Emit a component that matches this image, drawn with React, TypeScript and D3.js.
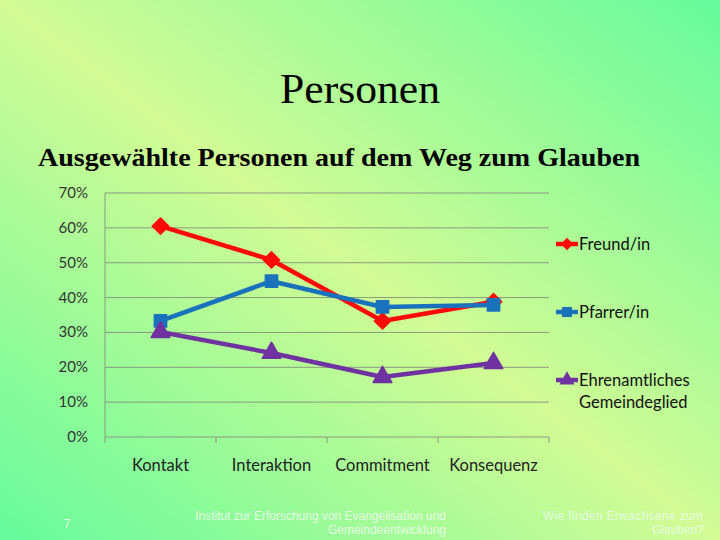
import React from 'react';
import * as d3 from 'd3';

const categories = ['Kontakt', 'Interaktion', 'Commitment', 'Konsequenz'];
const seriesNames = ['Freund/in', 'Pfarrer/in', 'Ehrenamtliches Gemeindeglied'];
const freund = [0.605, 0.508, 0.333, 0.388];
const pfarrer = [0.333, 0.447, 0.373, 0.379];
const ehrenamt = [0.301, 0.241, 0.172, 0.212];
const yTicks = [0, 0.1, 0.2, 0.3, 0.4, 0.5, 0.6, 0.7];

const colors = ['#ff0a0a', '#1a72bd', '#7032a0'];
const shapes = [d3.symbolDiamond2, d3.symbolSquare, d3.symbolTriangle];

export default function App() {
  const W = 720;
  const H = 540;
  const left = 105;
  const right = 549;
  const top = 193;
  const bottom = 437;

  const x = d3.scaleBand().domain(categories).range([left, right]);
  const y = d3.scaleLinear().domain([0, 0.7]).range([bottom, top]);
  const fmt = d3.format('.0%');

  const data = [freund, pfarrer, ehrenamt];
  const line = d3
    .line<number>()
    .x((_, i) => x(categories[i])! + x.bandwidth() / 2)
    .y((d) => y(d));

  const sym = (i: number) =>
    d3.symbol().type(shapes[i]).size(i === 0 ? 170 : 150)() as string;

  const font = 'Lato, "Open Sans", sans-serif';

  return (
    <svg width={W} height={H} style={{ position: 'absolute', left: 0, top: 0 }}>
      <defs>
        <linearGradient id="bg" x1="0" y1="1" x2="1" y2="0">
          <stop offset="0" stopColor="#66fb9c" />
          <stop offset="0.5" stopColor="#d2fb94" />
          <stop offset="1" stopColor="#66fb9c" />
        </linearGradient>
      </defs>
      <rect width={W} height={H} fill="url(#bg)" />

      <text
        x={280}
        y={103}
        fontFamily="'Liberation Serif', serif"
        fontSize={42}
        fill="#000"
        textLength={160}
        lengthAdjust="spacingAndGlyphs"
      >
        Personen
      </text>
      <text
        x={38}
        y={166}
        fontFamily="'Liberation Serif', serif"
        fontSize={26}
        fontWeight="bold"
        fill="#000"
        textLength={602}
        lengthAdjust="spacingAndGlyphs"
      >
        Ausgewählte Personen auf dem Weg zum Glauben
      </text>

      {/* grid */}
      {yTicks.map((t) => (
        <g key={t}>
          <line x1={left} x2={right} y1={y(t)} y2={y(t)} stroke="#8a9a80" strokeWidth={1} />
          <text x={88} y={y(t) + 5} textAnchor="end" fontFamily={font} fontSize={15} fill="#333">
            {fmt(t)}
          </text>
        </g>
      ))}
      <line x1={left} x2={left} y1={top} y2={bottom} stroke="#8a9a80" strokeWidth={1} />
      {categories.map((c) => (
        <line key={c} x1={x(c)!} x2={x(c)!} y1={bottom} y2={bottom + 6} stroke="#8a9a80" />
      ))}
      <line x1={right} x2={right} y1={bottom} y2={bottom + 6} stroke="#8a9a80" />
      {categories.map((c) => (
        <text
          key={c}
          x={x(c)! + x.bandwidth() / 2}
          y={471}
          textAnchor="middle"
          fontFamily={font}
          fontSize={16.5}
          fill="#222"
        >
          {c}
        </text>
      ))}

      {/* series */}
      {data.map((vals, s) => (
        <g key={s}>
          <path d={line(vals) as string} fill="none" stroke={colors[s]} strokeWidth={4.5} strokeLinejoin="round" />
          {vals.map((v, i) => (
            <path
              key={i}
              d={sym(s)}
              transform={`translate(${x(categories[i])! + x.bandwidth() / 2},${y(v)})`}
              fill={colors[s]}
              stroke={colors[s]}
              strokeWidth={1.5}
              strokeLinejoin="round"
            />
          ))}
        </g>
      ))}

      {/* legend */}
      {seriesNames.map((name, s) => {
        const ly = [244, 312, 380][s];
        const parts = s === 2 ? ['Ehrenamtliches', 'Gemeindeglied'] : [name];
        return (
          <g key={name}>
            <line x1={556} x2={578} y1={ly} y2={ly} stroke={colors[s]} strokeWidth={4.5} />
            <path
              d={d3.symbol().type(shapes[s]).size(100)() as string}
              transform={`translate(567,${ly})`}
              fill={colors[s]}
            />
            <text fontFamily={font} fontSize={16.5} fill="#111">
              {parts.map((p, k) => (
                <tspan key={p} x={579} y={ly + 6 + k * 22}>
                  {p}
                </tspan>
              ))}
            </text>
          </g>
        );
      })}

      {/* footer */}
      <g fontFamily="'Liberation Sans', Arial, sans-serif" fontSize={12} fill="#e4ffe0">
        <text x={67} y={528} textAnchor="middle">7</text>
        <text x={446} y={520} textAnchor="end">Institut zur Erforschung von Evangelisation und</text>
        <text x={446} y={534} textAnchor="end">Gemeindeentwicklung</text>
        <text x={543} y={520} textLength={160} lengthAdjust="spacing">Wie finden Erwachsene zum</text>
        <text x={704} y={534} textAnchor="end">Glauben?</text>
      </g>
    </svg>
  );
}
